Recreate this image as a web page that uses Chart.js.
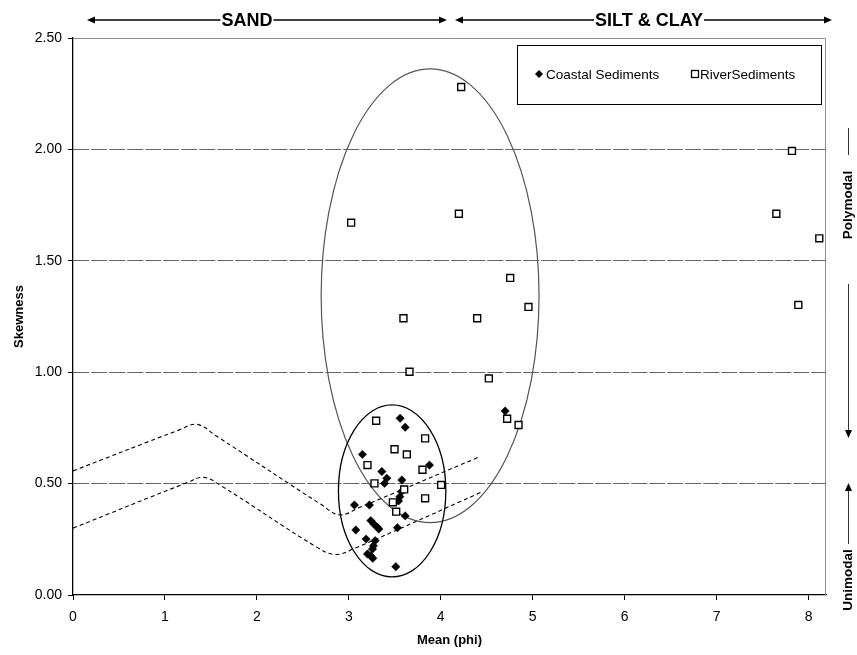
<!DOCTYPE html>
<html>
<head>
<meta charset="utf-8">
<script src="https://cdn.jsdelivr.net/npm/chart.js@4.4.1/dist/chart.umd.min.js"></script>
<style>
html,body{margin:0;padding:0;background:#fff;}
#wrap{width:857px;height:655px;position:relative;}
canvas{display:block;}
</style>
</head>
<body>
<div id="wrap"><canvas id="c" width="857" height="655"></canvas></div>
<script>
// ---------------- data ----------------
const seriesNames = ['Coastal Sediments', 'RiverSediments'];

const coastalX = [3.558, 3.613, 3.148, 3.877, 3.359, 3.413, 3.388, 3.577, 3.573, 3.555,
                  3.540, 3.061, 3.224, 3.613, 3.239, 3.275, 3.311, 3.326, 3.529, 3.076,
                  3.188, 3.286, 3.268, 3.257, 3.203, 3.240, 3.261, 3.511, 4.700];
const coastalY = [0.793, 0.753, 0.631, 0.583, 0.554, 0.524, 0.501, 0.516, 0.464, 0.441,
                  0.422, 0.404, 0.404, 0.355, 0.334, 0.317, 0.304, 0.296, 0.302, 0.292,
                  0.251, 0.244, 0.221, 0.206, 0.184, 0.175, 0.165, 0.127, 0.826];

const riverX = [4.222, 4.197, 3.025, 4.755, 4.954, 3.594, 4.396, 3.660, 4.523, 4.722,
                4.846, 7.820, 7.650, 8.117, 7.889, 3.297, 3.830, 3.497, 3.631, 3.203,
                3.801, 3.279, 4.004, 3.602, 3.830, 3.479, 3.515];
const riverY = [2.280, 1.711, 1.671, 1.423, 1.293, 1.242, 1.242, 1.002, 0.972, 0.791,
                0.763, 1.993, 1.711, 1.601, 1.302, 0.782, 0.703, 0.654, 0.631, 0.583,
                0.562, 0.501, 0.494, 0.474, 0.434, 0.416, 0.374];

// dashed boundary curves
const upperCurveX = [0.00, 1.15, 1.35, 1.55, 2.70, 2.90, 3.10, 4.42];
const upperCurveY = [0.557, 0.740, 0.766, 0.716, 0.406, 0.360, 0.390, 0.620];
const lowerCurveX = [0.00, 1.25, 1.42, 1.60, 2.65, 2.85, 3.05, 4.45];
const lowerCurveY = [0.300, 0.506, 0.528, 0.493, 0.215, 0.182, 0.207, 0.463];

// ellipses (centre and half-axes in data units)
const ellipseCX = [3.884, 3.471];
const ellipseCY = [1.343, 0.467];
const ellipseRX = [1.185, 0.584];
const ellipseRY = [1.018, 0.386];

// axes
const xTicks = [0, 1, 2, 3, 4, 5, 6, 7, 8];
const yTicks = [0, 0.5, 1, 1.5, 2, 2.5];
const xMin = 0, xMax = 8.19, yMin = 0, yMax = 2.5;
const xTitle = 'Mean (phi)';
const yTitle = 'Skewness';
const topLabels = ['SAND', 'SILT & CLAY'];
const sideLabels = ['Polymodal', 'Unimodal'];

// ---------------- build ----------------
const FONT = '"Liberation Sans", Arial, Helvetica, sans-serif';
const pts = (xs, ys) => xs.map((x, i) => ({x: x, y: ys[i]}));

function arrowHead(ctx, x, y, dir) { // dir: 'l','r','u','d'
  const L = 8, W = 3.5;
  ctx.beginPath();
  if (dir === 'r') { ctx.moveTo(x, y); ctx.lineTo(x - L, y - W); ctx.lineTo(x - L, y + W); }
  if (dir === 'l') { ctx.moveTo(x, y); ctx.lineTo(x + L, y - W); ctx.lineTo(x + L, y + W); }
  if (dir === 'd') { ctx.moveTo(x, y); ctx.lineTo(x - W, y - L); ctx.lineTo(x + W, y - L); }
  if (dir === 'u') { ctx.moveTo(x, y); ctx.lineTo(x - W, y + L); ctx.lineTo(x + W, y + L); }
  ctx.closePath();
  ctx.fill();
}

const decor = {
  id: 'decor',
  beforeDatasetsDraw(chart) {
    const {ctx, chartArea: a, scales: {x, y}} = chart;
    ctx.save();
    // gray plot frame (top and right)
    ctx.strokeStyle = '#8c8c8c';
    ctx.lineWidth = 1;
    ctx.beginPath();
    ctx.moveTo(a.left, a.top + 0.5);
    ctx.lineTo(a.right - 0.5, a.top + 0.5);
    ctx.lineTo(a.right - 0.5, a.bottom);
    ctx.stroke();
    // ellipses
    const cols = ['#555555', '#000000'];
    const widths = [1.2, 1.3];
    for (let i = 0; i < ellipseCX.length; i++) {
      const cx = x.getPixelForValue(ellipseCX[i]);
      const cy = y.getPixelForValue(ellipseCY[i]);
      const rx = Math.abs(x.getPixelForValue(ellipseCX[i] + ellipseRX[i]) - cx);
      const ry = Math.abs(y.getPixelForValue(ellipseCY[i] + ellipseRY[i]) - cy);
      ctx.beginPath();
      ctx.ellipse(cx, cy, rx, ry, 0, 0, Math.PI * 2);
      ctx.strokeStyle = cols[i];
      ctx.lineWidth = widths[i];
      ctx.stroke();
    }
    ctx.restore();
  },
  afterDraw(chart) {
    const {ctx} = chart;
    ctx.save();
    ctx.fillStyle = '#000';
    ctx.strokeStyle = '#000';
    // ---- top arrows ----
    const ty = 20;
    const segs = [[87, 447, 247], [455, 832, 649]];
    ctx.font = 'bold 18px ' + FONT;
    ctx.textAlign = 'center';
    ctx.textBaseline = 'middle';
    segs.forEach((s, i) => {
      ctx.lineWidth = 1.5;
      ctx.beginPath(); ctx.moveTo(s[0] + 2, ty); ctx.lineTo(s[1] - 2, ty); ctx.stroke();
      arrowHead(ctx, s[0], ty, 'l');
      arrowHead(ctx, s[1], ty, 'r');
      const w = ctx.measureText(topLabels[i]).width;
      ctx.fillStyle = '#fff';
      ctx.fillRect(s[2] - w / 2 - 1, ty - 10, w + 2, 20);
      ctx.fillStyle = '#000';
      ctx.fillText(topLabels[i], s[2], ty + 1);
    });
    // ---- right side labels ----
    const sx = 848;
    ctx.strokeStyle = '#333';
    ctx.fillStyle = '#000';
    ctx.lineWidth = 1;
    ctx.beginPath(); ctx.moveTo(sx + 0.5, 128); ctx.lineTo(sx + 0.5, 155); ctx.stroke();
    ctx.beginPath(); ctx.moveTo(sx + 0.5, 284); ctx.lineTo(sx + 0.5, 432); ctx.stroke();
    arrowHead(ctx, sx + 0.5, 438, 'd');
    ctx.beginPath(); ctx.moveTo(sx + 0.5, 489); ctx.lineTo(sx + 0.5, 544); ctx.stroke();
    arrowHead(ctx, sx + 0.5, 483, 'u');
    ctx.font = 'bold 13.5px ' + FONT;
    ctx.textAlign = 'center';
    ctx.textBaseline = 'middle';
    [[sideLabels[0], 205], [sideLabels[1], 580]].forEach(([t, cy]) => {
      ctx.save();
      ctx.translate(sx, cy);
      ctx.rotate(-Math.PI / 2);
      ctx.fillText(t, 0, 0);
      ctx.restore();
    });
    // ---- legend ----
    const lx = 517.5, ly = 45.5, lw = 304, lh = 59;
    ctx.fillStyle = '#fff';
    ctx.fillRect(lx, ly, lw, lh);
    ctx.strokeStyle = '#000';
    ctx.lineWidth = 1;
    ctx.strokeRect(lx, ly, lw, lh);
    const my = 74;
    ctx.fillStyle = '#000';
    ctx.beginPath();
    ctx.moveTo(539, my - 4); ctx.lineTo(543, my); ctx.lineTo(539, my + 4); ctx.lineTo(535, my);
    ctx.closePath(); ctx.fill();
    ctx.lineWidth = 1.3;
    ctx.strokeRect(691.5, my - 3.5, 7, 7);
    ctx.font = '13.5px ' + FONT;
    ctx.textAlign = 'left';
    ctx.textBaseline = 'middle';
    ctx.fillText(seriesNames[0], 546, my + 1);
    ctx.fillText(seriesNames[1], 700, my + 1);
    ctx.restore();
  }
};

const chart = new Chart(document.getElementById('c'), {
  type: 'scatter',
  data: {
    datasets: [
      {
        label: seriesNames[1],
        data: pts(riverX, riverY),
        pointStyle: 'rect',
        pointRadius: 4.9,
        pointHoverRadius: 4.9,
        backgroundColor: '#ffffff',
        borderColor: '#000000',
        borderWidth: 1.4,
        order: 0
      },
      {
        label: seriesNames[0],
        data: pts(coastalX, coastalY),
        pointStyle: 'rectRot',
        pointRadius: 4.2,
        pointHoverRadius: 4.2,
        backgroundColor: '#000000',
        borderColor: '#000000',
        borderWidth: 0.5,
        order: 1
      },
      {
        label: 'upper boundary',
        data: pts(upperCurveX, upperCurveY),
        showLine: true,
        tension: 0.4,
        pointRadius: 0,
        borderColor: '#000',
        borderWidth: 1.1,
        borderDash: [4, 3],
        fill: false,
        order: 2
      },
      {
        label: 'lower boundary',
        data: pts(lowerCurveX, lowerCurveY),
        showLine: true,
        tension: 0.4,
        pointRadius: 0,
        borderColor: '#000',
        borderWidth: 1.1,
        borderDash: [4, 3],
        fill: false,
        order: 2
      }
    ]
  },
  options: {
    responsive: false,
    animation: false,
    devicePixelRatio: 1,
    layout: {padding: {top: 38, right: 31, bottom: 0, left: 0}},
    plugins: {
      legend: {display: false},
      tooltip: {enabled: false}
    },
    scales: {
      x: {
        type: 'linear',
        min: xMin, max: xMax,
        afterBuildTicks: (s) => { s.ticks = xTicks.map(v => ({value: v})); },
        afterFit: (s) => { s.height = 60; },
        ticks: {
          includeBounds: false,
          color: '#000',
          font: {family: FONT, size: 14},
          padding: 9,
          maxRotation: 0,
          callback: (v) => String(v)
        },
        grid: {
          drawOnChartArea: false,
          drawTicks: true,
          tickLength: 5,
          tickColor: '#000',
          tickWidth: 1
        },
        border: {display: true, color: '#000', width: 1.3},
        title: {
          display: true,
          text: xTitle,
          color: '#000',
          font: {family: FONT, size: 13, weight: 'bold'},
          padding: {top: 0, bottom: 7}
        }
      },
      y: {
        type: 'linear',
        min: yMin, max: yMax,
        afterBuildTicks: (s) => { s.ticks = yTicks.map(v => ({value: v})); },
        afterFit: (s) => { s.width = 73; },
        ticks: {
          color: '#000',
          font: {family: FONT, size: 14},
          padding: 6,
          callback: (v) => Number(v).toFixed(2)
        },
        grid: {
          drawOnChartArea: true,
          drawTicks: true,
          tickLength: 5,
          tickColor: '#000',
          tickWidth: 1,
          color: (c) => (c.tick && (c.tick.value === 0 || c.tick.value === 2.5)) ? 'rgba(0,0,0,0)' : '#666666',
          lineWidth: 1
        },
        border: {display: true, color: '#000', width: 1.3, dash: [16, 2]},
        title: {
          display: true,
          text: yTitle,
          color: '#000',
          font: {family: FONT, size: 13, weight: 'bold'},
          padding: {top: 12, bottom: 0}
        }
      }
    }
  },
  plugins: [decor]
});
</script>
</body>
</html>
